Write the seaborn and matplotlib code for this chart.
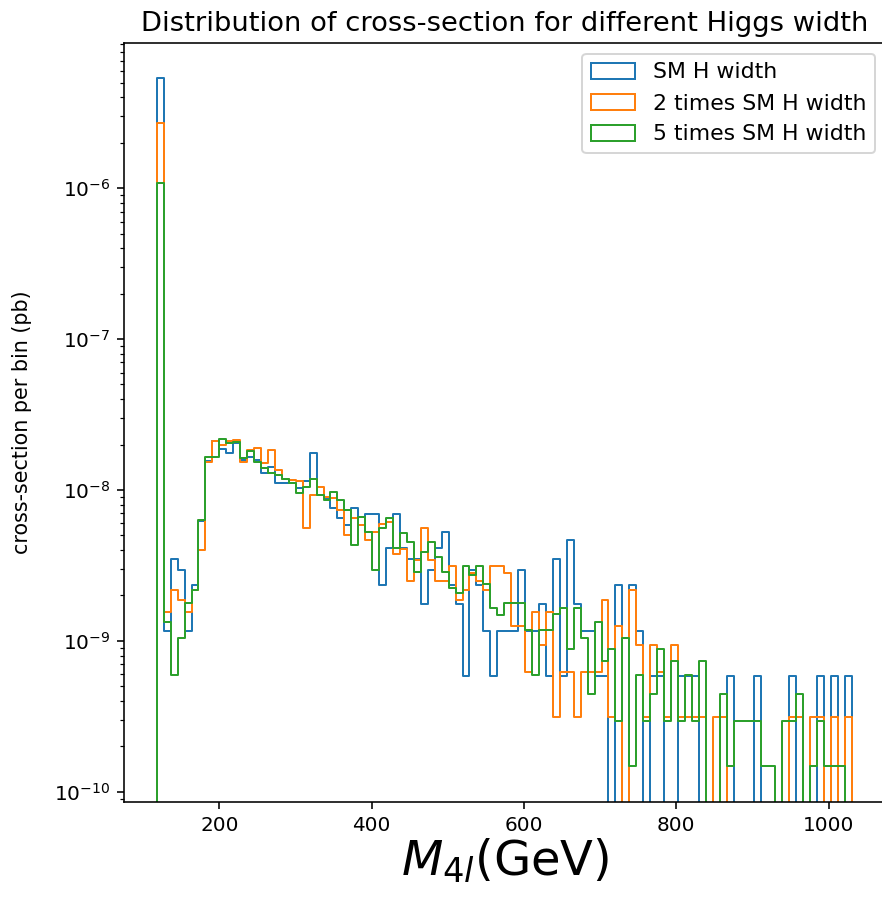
import numpy as np
import matplotlib
matplotlib.use("Agg")
import matplotlib.pyplot as plt
from matplotlib.patches import Patch
import seaborn as sns

# bin layout of the histogram (GeV)
m_low = 117.9
bin_width = 9.123
n_bins = 100

labels = ["SM H width", "2 times SM H width", "5 times SM H width"]
colors = ["#1f77b4", "#ff7f0e", "#2ca02c"]

# cross-section per bin (pb)
xs_sm = [5.36e-6, 1.17e-9, 3.51e-9, 2.93e-9, 1.17e-9, 2.34e-9, 6.2e-9, 1.56e-8, 2.12e-8, 1.86e-8,
         1.75e-8, 2.04e-8, 1.58e-8, 1.66e-8, 1.58e-8, 1.29e-8, 1.43e-8, 1.11e-8, 1.11e-8, 1.11e-8,
         1.03e-8, 1.14e-8, 1.75e-8, 9.27e-9, 8.81e-9, 7.56e-9, 6.49e-9, 5.86e-9, 7.56e-9, 6.6e-9,
         6.9e-9, 6.9e-9, 2.34e-9, 4.1e-9, 6.9e-9, 4.1e-9, 3.51e-9, 3.51e-9, 1.75e-9, 2.93e-9,
         4.1e-9, 5.27e-9, 2.34e-9, 1.75e-9, 5.85e-10, 2.93e-9, 2.34e-9, 1.17e-9, 5.85e-10, 1.17e-9,
         1.17e-9, 1.17e-9, 2.93e-9, 1.17e-9, 1.17e-9, 1.75e-9, 5.85e-10, 3.51e-9, 5.85e-10, 4.68e-9,
         1.75e-9, 1.17e-9, 1.17e-9, 5.85e-10, 5.85e-10, 0, 2.34e-9, 0, 2.34e-9, 1.17e-9,
         0, 5.85e-10, 5.85e-10, 0, 0, 5.85e-10, 5.85e-10, 5.85e-10, 0, 0,
         0, 0, 5.85e-10, 0, 0, 0, 5.85e-10, 0, 0, 0,
         0, 5.85e-10, 0, 0, 0, 5.85e-10, 0, 5.85e-10, 0, 5.85e-10]
xs_2x = [2.72e-6, 1.56e-9, 2.18e-9, 1.87e-9, 1.56e-9, 2.18e-9, 4.0e-9, 1.54e-8, 2.12e-8, 1.99e-8,
         2.12e-8, 2.14e-8, 1.54e-8, 1.84e-8, 1.89e-8, 1.5e-8, 1.84e-8, 1.36e-8, 1.19e-8, 1.16e-8,
         1.14e-8, 5.6e-9, 9.27e-9, 1.05e-8, 9.0e-9, 8.8e-9, 7.37e-9, 5.03e-9, 6.49e-9, 5.86e-9,
         4.67e-9, 5.3e-9, 5.97e-9, 6.1e-9, 3.74e-9, 4.06e-9, 2.5e-9, 3.44e-9, 5.6e-9, 3.44e-9,
         2.5e-9, 2.5e-9, 3.12e-9, 1.87e-9, 2.18e-9, 2.8e-9, 2.5e-9, 2.18e-9, 3.12e-9, 3.12e-9,
         2.8e-9, 1.25e-9, 1.25e-9, 6.24e-10, 1.56e-9, 9.36e-10, 1.56e-9, 3.12e-10, 6.24e-10, 6.24e-10,
         3.12e-10, 6.24e-10, 6.24e-10, 6.24e-10, 1.87e-9, 3.12e-10, 1.25e-9, 0, 2.18e-9, 9.36e-10,
         3.12e-10, 9.36e-10, 6.24e-10, 3.12e-10, 9.36e-10, 3.12e-10, 3.12e-10, 3.12e-10, 3.12e-10, 0,
         3.12e-10, 3.12e-10, 0, 0, 0, 0, 0, 0, 0, 0,
         0, 3.12e-10, 3.12e-10, 0, 3.12e-10, 3.12e-10, 0, 3.12e-10, 0, 3.12e-10]
xs_5x = [1.08e-6, 1.34e-9, 5.92e-10, 1.04e-9, 1.78e-9, 2.17e-9, 6.33e-9, 1.66e-8, 1.66e-8, 2.18e-8,
         2.04e-8, 2.07e-8, 1.62e-8, 1.8e-8, 1.54e-8, 1.39e-8, 1.29e-8, 1.26e-8, 1.19e-8, 1.11e-8,
         9.5e-9, 1.05e-8, 1.19e-8, 9.27e-9, 8.59e-9, 9.75e-9, 8.59e-9, 7.37e-9, 4.32e-9, 6.6e-9,
         5.3e-9, 2.95e-9, 5.57e-9, 6.49e-9, 4.1e-9, 5.16e-9, 4.55e-9, 2.87e-9, 3.9e-9, 4.5e-9,
         3.61e-9, 2.87e-9, 2.23e-9, 2.07e-9, 3.15e-9, 2.73e-9, 3.15e-9, 2.4e-9, 1.64e-9, 1.48e-9,
         1.79e-9, 1.79e-9, 1.79e-9, 1.18e-9, 5.92e-10, 1.18e-9, 1.18e-9, 1.5e-9, 1.64e-9, 8.88e-10,
         1.64e-9, 1.04e-9, 4.44e-10, 1.34e-9, 7.4e-10, 8.9e-10, 2.96e-10, 1.04e-9, 1.48e-10, 5.92e-10,
         2.96e-10, 4.44e-10, 8.9e-10, 2.96e-10, 7.4e-10, 2.96e-10, 5.92e-10, 2.96e-10, 7.4e-10, 0,
         0, 4.44e-10, 1.48e-10, 2.96e-10, 2.96e-10, 2.96e-10, 2.96e-10, 1.48e-10, 1.48e-10, 0,
         2.96e-10, 2.96e-10, 4.44e-10, 0, 1.48e-10, 2.96e-10, 1.48e-10, 1.48e-10, 1.48e-10, 0]

edges = m_low + bin_width * np.arange(n_bins + 1)
centers = 0.5 * (edges[:-1] + edges[1:])
# one empty bin on each side so the outline drops to the axis at both ends
all_edges = np.r_[edges[0] - bin_width, edges, edges[-1] + bin_width].tolist()

fig, ax = plt.subplots(figsize=(882 / 144, 897 / 144), dpi=144)
fig.subplots_adjust(left=124 / 882, right=886 / 882, bottom=95.3 / 897, top=1 - 42.7 / 897)

for vals, col in zip([xs_sm, xs_2x, xs_5x], colors):
    sns.histplot(x=centers, weights=vals, bins=all_edges, element="step", fill=False,
                 color=col, linewidth=1.0, ax=ax)

# log axis; empty bins are clipped so the outline drops to the bottom
ax.set_yscale("log", nonpositive="clip")
ax.set_xlim(74.9, 1075.2)
ax.set_ylim(8.6e-11, 9.2e-6)
ax.set_title("Distribution of cross-section for different Higgs width", fontsize=13.7)
ax.set_xlabel("$M_{4l}$(GeV)", fontsize=24, labelpad=1)
ax.set_ylabel("cross-section per bin (pb)", fontsize=10.3, labelpad=11)

handles = [Patch(facecolor="none", edgecolor=c, linewidth=1.0, label=l) for c, l in zip(colors, labels)]
ax.legend(handles=handles, loc="upper right", fontsize=11)

fig.savefig("out.png", dpi=144)
